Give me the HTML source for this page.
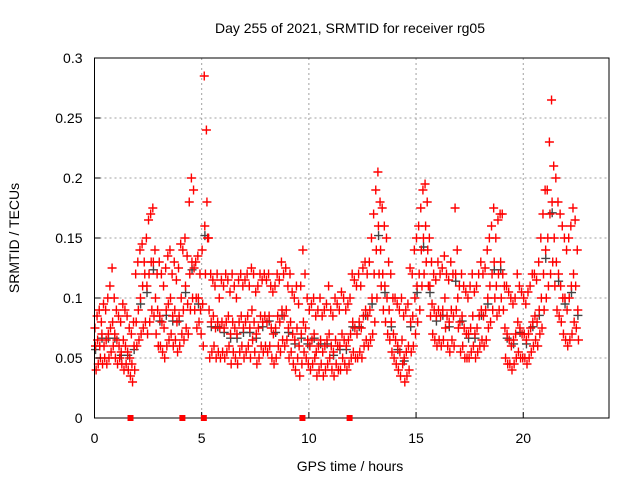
<!DOCTYPE html>
<html><head><meta charset="utf-8"><style>
body{margin:0;background:#fff}
svg{display:block;font-family:"Liberation Sans",sans-serif}
</style></head><body>
<svg id="c" width="640" height="480">
<text x="350" y="33" text-anchor="middle" font-size="14">Day 255 of 2021, SRMTID for receiver rg05</text>
<text x="350" y="471" text-anchor="middle" font-size="14">GPS time / hours</text>
<text transform="translate(19,238) rotate(-90)" text-anchor="middle" font-size="14">SRMTID / TECUs</text>
<g id="grid"></g><g id="marks"></g><g id="axes"></g>
</svg>
<script>
const xTicks=[0,5,10,15,20];
const yTicks=[0,0.05,0.1,0.15,0.2,0.25,0.3];
const yTickLabels=["0","0.05","0.1","0.15","0.2","0.25","0.3"];
const gapHours=[1.68,4.1,5.1,9.7,11.9];
const hiVals=[.075,.085,.09,.08,.095,.09,.10,.11,.125,.10,
.09,.085,.08,.095,.09,.085,.075,.07,.08,.12,
.13,.14,.145,.13,.15,.165,.17,.175,.14,.12,
.13,.12,.11,.125,.135,.14,.12,.13,.115,.125,
.145,.14,.15,.135,.18,.20,.19,.13,.135,.12,
.14,.285,.24,.15,.12,.115,.11,.12,.10,.115,
.11,.12,.115,.105,.12,.11,.10,.115,.12,.11,
.115,.12,.11,.125,.12,.105,.11,.12,.115,.12,
.115,.12,.11,.105,.11,.12,.115,.13,.12,.125,
.11,.12,.105,.10,.11,.095,.11,.14,.12,.10,
.09,.095,.10,.085,.09,.10,.085,.09,.095,.11,
.09,.085,.10,.095,.09,.105,.10,.09,.095,.10,
.12,.115,.11,.12,.11,.125,.13,.12,.13,.15,
.17,.19,.205,.18,.175,.16,.15,.13,.12,.10,
.10,.095,.09,.10,.085,.09,.095,.125,.12,.14,
.15,.16,.175,.19,.195,.18,.15,.13,.12,.115,
.13,.12,.125,.135,.12,.115,.13,.12,.175,.14,
.11,.12,.11,.105,.10,.11,.12,.105,.11,.12,
.13,.12,.125,.14,.15,.16,.175,.15,.165,.17,
.17,.11,.11,.105,.10,.095,.10,.12,.11,.105,
.10,.095,.105,.11,.12,.12,.115,.13,.15,.17,
.19,.19,.23,.265,.21,.20,.18,.17,.16,.15,
.14,.15,.16,.175,.165,.14];
const midVals=[.06,.065,.06,.07,.06,.065,.07,.075,.08,.07,
.065,.06,.055,.065,.06,.055,.05,.045,.06,.08,
.09,.10,.11,.12,.11,.12,.13,.13,.10,.09,
.085,.08,.075,.09,.095,.10,.085,.09,.08,.085,
.10,.09,.11,.095,.12,.13,.125,.10,.10,.09,
.095,.16,.18,.09,.08,.085,.075,.08,.075,.08,
.075,.08,.085,.07,.08,.075,.07,.08,.085,.075,
.08,.085,.075,.09,.08,.07,.075,.085,.08,.085,
.08,.085,.075,.07,.075,.085,.08,.09,.085,.09,
.075,.08,.07,.065,.075,.06,.07,.08,.075,.065,
.06,.065,.07,.055,.06,.065,.055,.06,.065,.07,
.06,.055,.065,.06,.06,.07,.065,.06,.065,.07,
.08,.075,.07,.08,.075,.085,.09,.085,.09,.10,
.12,.14,.16,.14,.12,.11,.10,.09,.08,.07,
.065,.06,.055,.065,.05,.055,.06,.08,.085,.10,
.11,.12,.14,.15,.16,.14,.11,.095,.09,.085,
.09,.085,.09,.10,.085,.08,.09,.085,.12,.10,
.08,.085,.075,.07,.07,.075,.085,.07,.075,.085,
.09,.085,.09,.10,.11,.12,.13,.11,.12,.13,
.12,.075,.07,.065,.06,.065,.07,.08,.075,.07,
.07,.065,.07,.075,.08,.085,.08,.09,.10,.12,
.14,.15,.17,.18,.15,.13,.12,.11,.10,.10,
.09,.10,.11,.12,.11,.09];
const loVals=[.04,.045,.05,.045,.05,.045,.05,.055,.06,.05,
.045,.05,.045,.04,.045,.04,.035,.03,.04,.06,
.065,.07,.075,.08,.07,.08,.09,.085,.07,.06,
.06,.055,.05,.06,.065,.07,.06,.065,.055,.06,
.07,.065,.075,.07,.09,.10,.09,.075,.08,.07,
.06,.12,.15,.05,.055,.06,.05,.055,.05,.055,
.05,.055,.06,.045,.055,.05,.045,.055,.06,.05,
.055,.06,.05,.065,.055,.045,.05,.06,.055,.06,
.055,.06,.05,.045,.05,.06,.055,.065,.06,.065,
.05,.055,.045,.04,.05,.035,.045,.055,.05,.045,
.04,.045,.05,.035,.04,.045,.035,.04,.045,.05,
.04,.035,.045,.04,.04,.05,.045,.04,.045,.05,
.055,.05,.05,.055,.05,.06,.065,.06,.065,.07,
.08,.10,.12,.11,.09,.08,.07,.065,.055,.05,
.045,.04,.035,.045,.03,.035,.04,.055,.06,.07,
.08,.09,.11,.12,.13,.11,.085,.07,.065,.06,
.065,.06,.065,.075,.06,.055,.065,.06,.09,.075,
.055,.06,.05,.05,.05,.055,.06,.05,.055,.06,
.065,.06,.065,.075,.08,.09,.10,.085,.09,.10,
.09,.05,.045,.045,.04,.045,.05,.055,.05,.05,
.05,.045,.05,.055,.06,.065,.06,.07,.075,.09,
.10,.11,.12,.13,.11,.09,.085,.08,.07,.065,
.06,.065,.07,.08,.075,.065];
const timeStep=0.1;
const L=94.5,R=609,T=58,B=418,xMax=24,yMax=0.3;
const X=h=>L+(R-L)*h/xMax, Y=v=>B-(B-T)*v/yMax;
const NS="http://www.w3.org/2000/svg";
function mk(tag,attrs,parent){const e=document.createElementNS(NS,tag);for(const k in attrs)e.setAttribute(k,attrs[k]);parent.appendChild(e);return e;}
const grid=document.getElementById('grid'),marks=document.getElementById('marks'),axes=document.getElementById('axes');
xTicks.forEach(t=>{
 if(t>0){const g=mk('line',{x1:X(t),x2:X(t),y1:T,y2:B,stroke:'#a0a0a0','stroke-dasharray':'2,3'},grid);
 
 }
 const tk=mk('line',{x1:X(t),x2:X(t),y1:B,y2:B-6,stroke:'#000'},axes);
 
 
 const lb=mk('text',{x:X(t),y:B+25,'text-anchor':'middle','font-size':14},axes);lb.textContent=t;
 
 
});
yTicks.forEach((v,i)=>{
 if(v>0&&v<yMax){const g=mk('line',{x1:L,x2:R,y1:Y(v),y2:Y(v),stroke:'#a0a0a0','stroke-dasharray':'2,3'},grid);
 
 }
 const tk=mk('line',{x1:L,x2:L+6,y1:Y(v),y2:Y(v),stroke:'#000'},axes);
 
 
 const lb=mk('text',{x:L-12,y:Y(v)+5,'text-anchor':'end','font-size':14},axes);lb.textContent=yTickLabels[i];
 
 
});
const frame=mk('rect',{x:L,y:T,width:R-L,height:B-T,fill:'none',stroke:'#000'},axes);


function plus(x,y,col){
 const p=mk('path',{d:`M${x-4.5},${y}h9M${x},${y-4.5}v9`,stroke:col,'stroke-width':1.4,fill:'none'},marks);
 
 
}
midVals.forEach((v,i)=>{if(i%3===0)plus(X(i*timeStep+0.05),Y(v*0.95),'#444');});
[[hiVals,0.02],[midVals,0.045],[loVals,0.075]].forEach(([arr,off])=>{
 arr.forEach((v,i)=>plus(X(i*timeStep+off),Y(v),'#f00'));
});
gapHours.forEach(h=>{
 const s=mk('rect',{x:X(h)-3,y:B-3,width:6,height:6,fill:'#f00'},axes);
 
 
});
</script>
</body></html>
